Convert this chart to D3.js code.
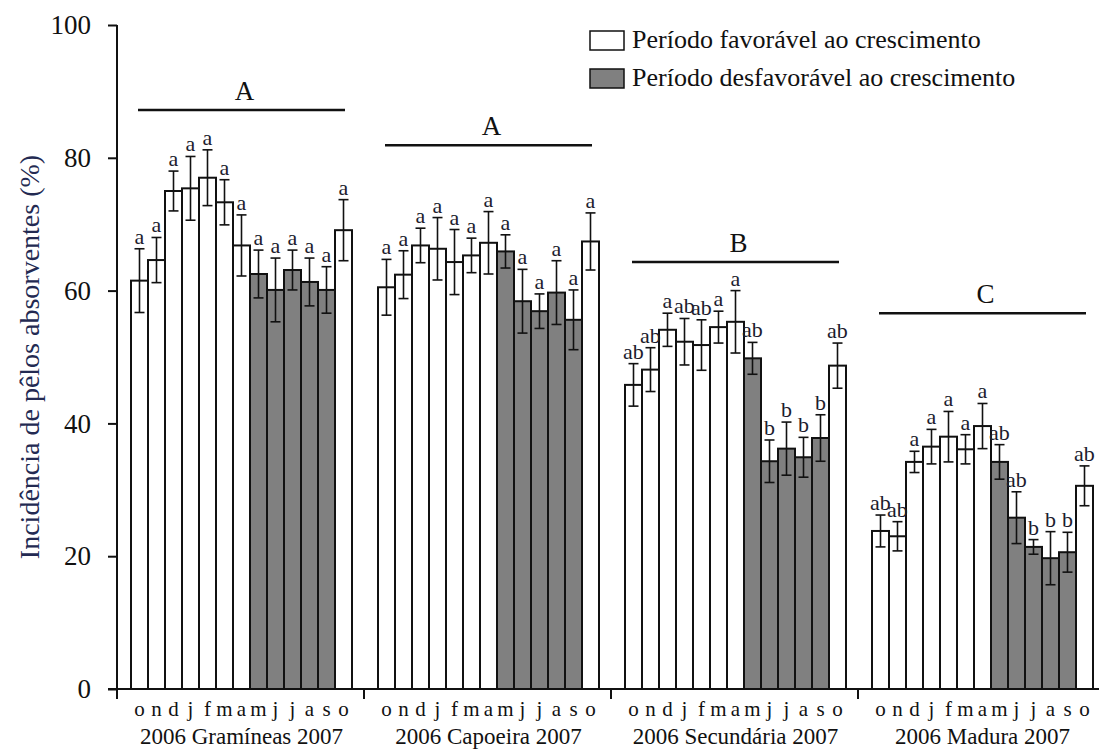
<!DOCTYPE html>
<html>
<head>
<meta charset="utf-8">
<script src="https://cdn.jsdelivr.net/npm/d3@7"></script>
<style>
  html, body { margin: 0; padding: 0; background: #fff; }
  svg { display: block; }
  text { font-family: "Liberation Serif", "Times New Roman", serif; }
</style>
</head>
<body>
<svg id="chart" width="1099" height="752"></svg>
<script>
// Months sampled in each area (Oct 2006 – Oct 2007)
const months = ["o", "n", "d", "j", "f", "m", "a", "m", "j", "j", "a", "s", "o"];
// true = unfavourable period for growth (grey bars)
const unfavourable = [false, false, false, false, false, false, false, true, true, true, true, true, false];

const groups = ["2006 Gramíneas 2007", "2006 Capoeira 2007", "2006 Secundária 2007", "2006 Madura 2007"];

// Mean incidence of root hairs (%) per month
const gramineas  = [61.5, 64.6, 75.0, 75.4, 77.0, 73.3, 66.8, 62.5, 60.1, 63.1, 61.3, 60.1, 69.1];
const capoeira   = [60.5, 62.4, 66.8, 66.3, 64.3, 65.3, 67.2, 65.9, 58.4, 56.9, 59.7, 55.6, 67.4];
const secundaria = [45.8, 48.1, 54.1, 52.3, 51.8, 54.5, 55.3, 49.8, 34.3, 36.2, 34.9, 37.8, 48.7];
const madura     = [23.8, 23.0, 34.2, 36.5, 38.0, 36.1, 39.6, 34.2, 25.8, 21.4, 19.7, 20.6, 30.6];

// Standard errors
const errGramineas  = [4.8, 3.4, 3.0, 4.8, 4.2, 3.4, 4.6, 3.6, 4.8, 3.0, 3.6, 3.5, 4.6];
const errCapoeira   = [4.2, 3.6, 2.6, 4.7, 4.9, 2.6, 4.7, 2.5, 4.8, 2.6, 4.8, 4.5, 4.3];
const errSecundaria = [3.2, 3.3, 2.5, 3.5, 3.8, 2.4, 4.7, 2.4, 3.2, 4.0, 3.0, 3.5, 3.4];
const errMadura     = [2.4, 2.2, 1.6, 2.6, 3.8, 2.2, 3.4, 2.6, 3.9, 1.1, 4.0, 3.0, 3.0];

// Tukey letters per month
const letGramineas  = ["a","a","a","a","a","a","a","a","a","a","a","a","a"];
const letCapoeira   = ["a","a","a","a","a","a","a","a","a","a","a","a","a"];
const letSecundaria = ["ab","ab","a","ab","ab","a","a","ab","b","b","b","b","ab"];
const letMadura     = ["ab","ab","a","a","a","a","a","ab","ab","b","b","b","ab"];

// Letters comparing the areas, and the level (%) of their bracket
const groupLetters = ["A", "A", "B", "C"];
const groupLetterLevel = [87.2, 81.9, 64.3, 56.6];

const yTicks = [0, 20, 40, 60, 80, 100];

const legendItems = ["Período favorável ao crescimento", "Período desfavorável ao crescimento"];

const seriesValues = [gramineas, capoeira, secundaria, madura];
const seriesErrors = [errGramineas, errCapoeira, errSecundaria, errMadura];
const seriesLetters = [letGramineas, letCapoeira, letSecundaria, letMadura];

const svg = d3.select("#chart");
const INK = "#111";
const GREY = "#808080";

const y = d3.scaleLinear().domain([0, 100]).range([689, 25]);
const xGroup = d3.scaleBand().domain(d3.range(groups.length)).range([117, 1105]).padding(0);
const xMonth = d3.scaleBand().domain(d3.range(months.length)).range([14, 235]).padding(0);

// y axis
const yAxis = d3.axisLeft(y).tickValues(yTicks).tickSize(9).tickPadding(17).tickFormat(d3.format("d"));
const gy = svg.append("g").attr("transform", `translate(${xGroup(0)},0)`).call(yAxis);
gy.select(".domain").attr("d", `M0,${y(100)}V${y(0) + 10}`).attr("stroke", INK).attr("stroke-width", 2);
gy.selectAll(".tick line").attr("stroke", INK).attr("stroke-width", 2);
gy.selectAll(".tick text").attr("font-size", 27).attr("fill", INK)
  .attr("font-family", "Liberation Serif");

// y axis title
svg.append("text")
  .attr("transform", `translate(39,357) rotate(-90)`)
  .attr("text-anchor", "middle")
  .attr("font-size", 28)
  .attr("fill", "#232a52")
  .text("Incidência de pêlos absorventes (%)");

// x baseline
svg.append("line")
  .attr("x1", xGroup(0) - 9).attr("x2", 1099)
  .attr("y1", y(0)).attr("y2", y(0))
  .attr("stroke", INK).attr("stroke-width", 2);

// group separators below the baseline
svg.selectAll("line.sep").data(d3.range(1, groups.length)).join("line")
  .attr("class", "sep")
  .attr("x1", d => xGroup(d)).attr("x2", d => xGroup(d))
  .attr("y1", y(0)).attr("y2", y(0) + 10)
  .attr("stroke", INK).attr("stroke-width", 2);

const bw = xMonth.bandwidth();

groups.forEach((gName, gi) => {
  const g = svg.append("g").attr("transform", `translate(${xGroup(gi)},0)`);
  const vals = seriesValues[gi], errs = seriesErrors[gi], lets = seriesLetters[gi];
  const data = vals.map((v, i) => ({ i, v, e: errs[i], l: lets[i], unf: unfavourable[i] }));

  // bars
  g.selectAll("rect.bar").data(data).join("rect")
    .attr("class", "bar")
    .attr("x", d => xMonth(d.i))
    .attr("y", d => y(d.v))
    .attr("width", bw)
    .attr("height", d => y(0) - y(d.v))
    .attr("fill", d => d.unf ? GREY : "#fff")
    .attr("stroke", INK).attr("stroke-width", 2);

  // error bars
  const cx = d => xMonth(d.i) + bw / 2;
  const eb = g.selectAll("g.err").data(data).join("g").attr("class", "err")
    .attr("stroke", INK).attr("stroke-width", 1.6);
  eb.append("line").attr("x1", cx).attr("x2", cx)
    .attr("y1", d => y(d.v + d.e)).attr("y2", d => y(d.v - d.e));
  eb.append("line").attr("x1", d => cx(d) - 5).attr("x2", d => cx(d) + 5)
    .attr("y1", d => y(d.v + d.e)).attr("y2", d => y(d.v + d.e));
  eb.append("line").attr("x1", d => cx(d) - 5).attr("x2", d => cx(d) + 5)
    .attr("y1", d => y(d.v - d.e)).attr("y2", d => y(d.v - d.e));

  // significance letters per month
  g.selectAll("text.let").data(data).join("text")
    .attr("class", "let")
    .attr("x", cx)
    .attr("y", d => y(d.v + d.e) - 5)
    .attr("text-anchor", "middle")
    .attr("font-size", 22)
    .attr("fill", "#1c1c2e")
    .text(d => d.l);

  // month axis labels
  const xa = d3.axisBottom(xMonth).tickSize(0).tickPadding(0).tickFormat(i => months[i]);
  const ga = g.append("g").attr("transform", `translate(0,${y(0)})`).call(xa);
  ga.select(".domain").remove();
  ga.selectAll(".tick text")
    .attr("y", 27).attr("dy", 0)
    .attr("font-size", 21).attr("fill", INK)
    .attr("font-family", "Liberation Serif");

  // area name
  g.append("text")
    .attr("x", xMonth.range()[0] + (xMonth.range()[1] - xMonth.range()[0]) / 2)
    .attr("y", 744)
    .attr("text-anchor", "middle")
    .attr("font-size", 23)
    .attr("fill", INK)
    .text(gName);

  // bracket letter comparing the areas
  const lx0 = xMonth(0) + 7, lx1 = xMonth(months.length - 1) + bw - 7;
  g.append("line")
    .attr("x1", lx0).attr("x2", lx1)
    .attr("y1", y(groupLetterLevel[gi])).attr("y2", y(groupLetterLevel[gi]))
    .attr("stroke", INK).attr("stroke-width", 2.4);
  g.append("text")
    .attr("x", (lx0 + lx1) / 2 + 3)
    .attr("y", y(groupLetterLevel[gi]) - 10)
    .attr("text-anchor", "middle")
    .attr("font-size", 27)
    .attr("fill", INK)
    .text(groupLetters[gi]);
});

// legend
const lg = svg.append("g").attr("transform", "translate(590,31)");
legendItems.forEach((label, i) => {
  lg.append("rect")
    .attr("x", 0).attr("y", i * 38)
    .attr("width", 34).attr("height", 19)
    .attr("fill", i === 0 ? "#fff" : GREY)
    .attr("stroke", INK).attr("stroke-width", 1.5);
  lg.append("text")
    .attr("x", 42).attr("y", i * 38 + 17)
    .attr("font-size", 26)
    .attr("fill", INK)
    .text(label);
});
</script>
</body>
</html>
